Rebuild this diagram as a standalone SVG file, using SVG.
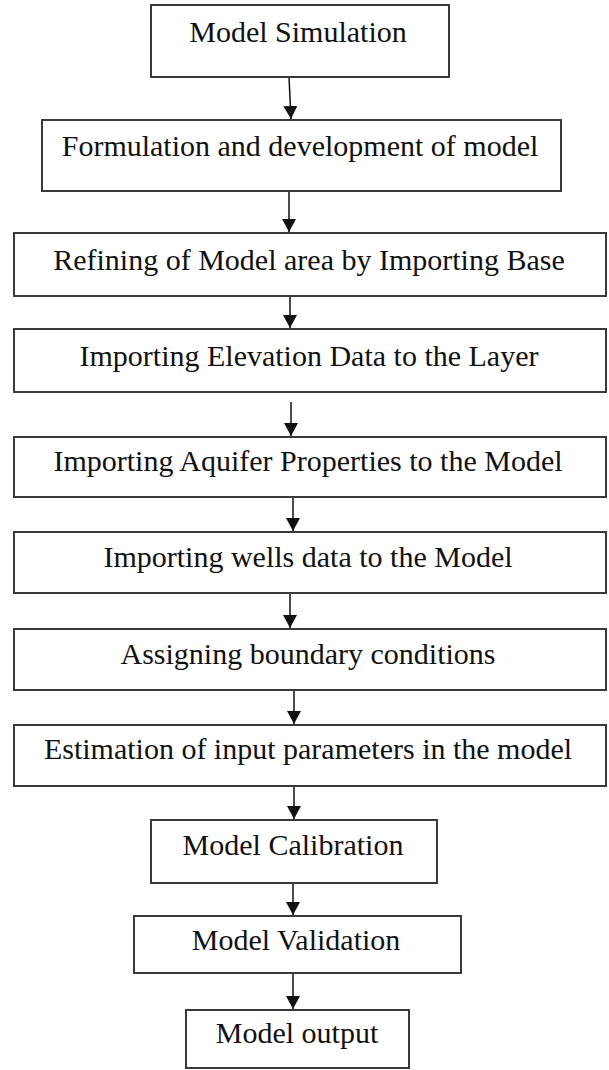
<svg xmlns="http://www.w3.org/2000/svg" width="609" height="1070" viewBox="0 0 609 1070">
  <style>
    .box { fill: #ffffff; stroke: #3a3a3a; stroke-width: 2; }
    .label { font-family: "Liberation Serif", "Times New Roman", serif; font-size: 30px; fill: #111111; text-anchor: middle; }
    .flow { stroke: #111111; stroke-width: 1.5; fill: none; marker-end: url(#head); }
  </style>
  <defs>
    <marker id="head" viewBox="0 0 13 14" refX="13" refY="7" markerWidth="13" markerHeight="14" markerUnits="userSpaceOnUse" orient="auto">
      <path d="M0,0 L13,7 L0,14 Z" fill="#111111"/>
    </marker>
  </defs>
  <rect width="609" height="1070" fill="#ffffff"/>

  <!-- connectors -->
  <g id="connectors">
    <line class="flow" x1="289" y1="77" x2="291" y2="119"/>
    <line class="flow" x1="289" y1="191" x2="289" y2="232"/>
    <line class="flow" x1="290" y1="296" x2="290" y2="328"/>
    <line class="flow" x1="291" y1="402" x2="291" y2="436"/>
    <line class="flow" x1="293" y1="497" x2="293" y2="531"/>
    <line class="flow" x1="290" y1="593" x2="290" y2="628"/>
    <line class="flow" x1="294" y1="690" x2="294" y2="724"/>
    <line class="flow" x1="294" y1="786" x2="294" y2="819"/>
    <line class="flow" x1="293" y1="883" x2="293" y2="915"/>
    <line class="flow" x1="293" y1="973" x2="293" y2="1009"/>
  </g>

  <!-- process steps -->
  <g id="model-simulation">
    <rect class="box" x="151" y="5" width="298" height="72"/>
    <text class="label" x="298" y="42">Model Simulation</text>
  </g>
  <g id="formulation">
    <rect class="box" x="42" y="120" width="519" height="71"/>
    <text class="label" x="300" y="156">Formulation and development of model</text>
  </g>
  <g id="refining">
    <rect class="box" x="14" y="233" width="592" height="63"/>
    <text class="label" x="309" y="270">Refining of Model area by Importing Base</text>
  </g>
  <g id="elevation">
    <rect class="box" x="14" y="329" width="592" height="63"/>
    <text class="label" x="309" y="366">Importing Elevation Data to the Layer</text>
  </g>
  <g id="aquifer">
    <rect class="box" x="14" y="437" width="592" height="60"/>
    <text class="label" x="308" y="471">Importing Aquifer Properties to the Model</text>
  </g>
  <g id="wells">
    <rect class="box" x="14" y="532" width="592" height="61"/>
    <text class="label" x="308" y="567">Importing wells data to the Model</text>
  </g>
  <g id="boundary">
    <rect class="box" x="14" y="629" width="592" height="61"/>
    <text class="label" x="308" y="664">Assigning boundary conditions</text>
  </g>
  <g id="estimation">
    <rect class="box" x="14" y="725" width="592" height="61"/>
    <text class="label" x="308" y="759">Estimation of input parameters in the model</text>
  </g>
  <g id="calibration">
    <rect class="box" x="151" y="820" width="286" height="63"/>
    <text class="label" x="293" y="855">Model Calibration</text>
  </g>
  <g id="validation">
    <rect class="box" x="134" y="916" width="327" height="57"/>
    <text class="label" x="296" y="950">Model Validation</text>
  </g>
  <g id="output">
    <rect class="box" x="186" y="1010" width="223" height="58"/>
    <text class="label" x="297" y="1043">Model output</text>
  </g>
</svg>
